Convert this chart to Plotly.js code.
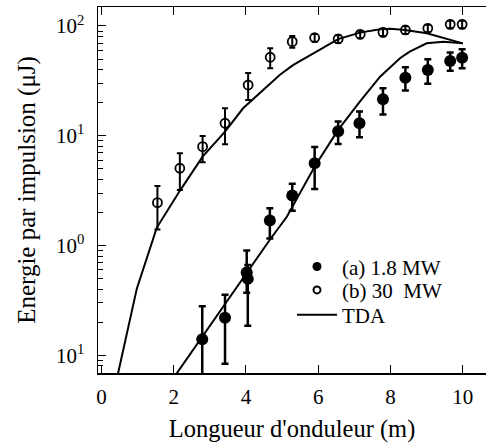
<!DOCTYPE html>
<html>
<head>
<meta charset="utf-8">
<script src="https://cdn.plot.ly/plotly-3.0.1.min.js"></script>
</head>
<body style="margin:0">
<div id="chart" style="width:486px;height:444px"></div>
<script>
// (a) 1.8 MW - filled circles
const xA  = [2.79, 3.42, 4.02, 4.05, 4.66, 5.28, 5.90, 6.55, 7.14, 7.79, 8.41, 9.03, 9.65, 9.98];
const yA  = [0.140, 0.220, 0.569, 0.497, 1.69, 2.86, 5.61, 11.0, 13.0, 21.5, 33.8, 39.7, 48.0, 51.4];
const hiA = [0.28, 0.357, 0.90, 0.665, 2.19, 3.66, 7.9, 13.5, 16.6, 27.1, 42.1, 49.8, 57.2, 61.4];
const loA = [0.05, 0.084, 0.372, 0.186, 1.16, 2.08, 3.27, 8.4, 9.7, 15.6, 25.8, 29.7, 39.2, 41.2];

// (b) 30 MW - open circles
const xB  = [1.55, 2.17, 2.80, 3.42, 4.06, 4.67, 5.28, 5.90, 6.55, 7.16, 7.79, 8.41, 9.03, 9.65, 9.98];
const yB  = [2.46, 5.06, 7.96, 13.0, 29.0, 51.9, 72.0, 78.2, 76.2, 84.0, 87.5, 92.0, 95.2, 103.6, 103.6];
const hiB = [3.49, 6.93, 9.96, 17.8, 37.3, 62.7, 81.0, 84.5, 82.3, 90.7, 94.5, 99.4, 102.8, 111.9, 111.9];
const loB = [1.40, 3.20, 5.74, 8.38, 21.2, 41.2, 63.4, 72.0, 70.1, 77.3, 80.5, 84.6, 87.6, 95.3, 95.3];

// TDA curves
const xT1 = [0.45, 0.98, 1.53, 2.17, 2.80, 3.42, 3.92, 4.66, 4.94, 5.30, 5.86, 6.55, 7.15, 7.71, 8.0, 8.4, 9.0, 9.46, 10.0];
const yT1 = [0.066, 0.405, 1.45, 3.15, 6.46, 10.9, 17.8, 30.0, 36.0, 44.0, 56.4, 76.0, 87.0, 93.3, 94.5, 92.0, 85.8, 77.3, 69.5];
const xT2 = [2.05, 4.66, 5.13, 5.91, 6.55, 7.15, 7.71, 8.26, 8.53, 9.0, 9.46, 10.0];
const yT2 = [0.066, 1.13, 1.83, 5.3, 11.3, 20.5, 34.5, 50.8, 58.3, 69.5, 72.0, 69.5];

const yTickVals = [0.1, 1, 10, 100];
const yTickText = ['10<sup>1</sup>', '10<sup>0</sup>', '10<sup>1</sup>', '10<sup>2</sup>'];
const xTickVals = [0, 2, 4, 6, 8, 10];

const legendNames = ['(a) 1.8 MW', '(b) 30  MW', 'TDA'];

const minorVals = [];
[0.01, 0.1, 1, 10, 100].forEach(d => { for (let k = 2; k <= 9; k++) minorVals.push(d * k); });

const diff = (a, b) => a.map((v, i) => v - b[i]);

const traces = [
  {x: xT1, y: yT1, mode: 'lines', line: {color: '#000', width: 2}, showlegend: false, hoverinfo: 'skip'},
  {x: xT2, y: yT2, mode: 'lines', line: {color: '#000', width: 2}, showlegend: false, hoverinfo: 'skip'},
  {x: xB, y: yB, mode: 'markers', showlegend: false,
   marker: {symbol: 'circle-open', size: 9, color: '#000', line: {width: 1.8, color: '#000'}},
   error_y: {type: 'data', symmetric: false, array: diff(hiB, yB), arrayminus: diff(yB, loB), color: '#000', thickness: 2, width: 3}},
  {x: xA, y: yA, mode: 'markers', showlegend: false,
   marker: {symbol: 'circle', size: 12, color: '#000'},
   error_y: {type: 'data', symmetric: false, array: diff(hiA, yA), arrayminus: diff(yA, loA), color: '#000', thickness: 2.5, width: 3.5}},
  {x: [null], y: [null], name: legendNames[0], legend: 'legend', mode: 'markers', marker: {symbol: 'circle', size: 9, color: '#000'}},
  {x: [null], y: [null], name: legendNames[1], legend: 'legend2', mode: 'markers', marker: {symbol: 'circle-open', size: 7, color: '#000', line: {width: 2, color: '#000'}}},
  {x: [null], y: [null], name: legendNames[2], legend: 'legend3', mode: 'lines', line: {color: '#000', width: 2}}
];

const layout = {
  width: 486, height: 444,
  margin: {l: 98, r: 0, t: 7, b: 71},
  paper_bgcolor: '#fff', plot_bgcolor: '#fff',
  showlegend: true,
  legend:  {x: 0.50, y: 0.290, xanchor: 'left', yanchor: 'middle', bgcolor: 'rgba(0,0,0,0)', borderwidth: 0, itemwidth: 40, font: {family: 'Liberation Serif', size: 21, color: '#000'}},
  legend2: {x: 0.50, y: 0.226, xanchor: 'left', yanchor: 'middle', bgcolor: 'rgba(0,0,0,0)', borderwidth: 0, itemwidth: 40, font: {family: 'Liberation Serif', size: 21, color: '#000'}},
  legend3: {x: 0.50, y: 0.158, xanchor: 'left', yanchor: 'middle', bgcolor: 'rgba(0,0,0,0)', borderwidth: 0, itemwidth: 40, font: {family: 'Liberation Serif', size: 21, color: '#000'}},
  xaxis: {
    range: [-0.094, 10.64], autorange: false,
    tickmode: 'array', tickvals: xTickVals,
    ticks: 'inside', ticklen: 8, tickwidth: 1, tickcolor: '#000',
    showline: true, linecolor: '#000', linewidth: 1.5, mirror: 'ticks',
    showgrid: false, zeroline: false,
    tickfont: {family: 'Liberation Serif', size: 21, color: '#000'},
    ticklabelstandoff: 4,
    title: {text: "Longueur d'onduleur (m)", font: {family: 'Liberation Serif', size: 24.5, color: '#000'}, standoff: 12}
  },
  yaxis: {
    type: 'log', range: [-1.161, 2.173], autorange: false,
    tickmode: 'array', tickvals: yTickVals, ticktext: yTickText,
    ticks: 'inside', ticklen: 8, tickwidth: 1, tickcolor: '#000',
    minor: {tickmode: 'array', tickvals: minorVals, ticks: 'inside', ticklen: 5, tickwidth: 1, tickcolor: '#000', showgrid: false},
    showline: true, linecolor: '#000', linewidth: 1.5, mirror: true,
    showgrid: false, zeroline: false,
    tickfont: {family: 'Liberation Serif', size: 21, color: '#000'},
    ticklabelstandoff: 8,
    title: {text: 'Energie par impulsion (μJ)', font: {family: 'Liberation Serif', size: 25, color: '#000'}, standoff: 13}
  },
  yaxis2: {
    type: 'log', range: [-1.161, 2.173], autorange: false, overlaying: 'y', side: 'right',
    tickmode: 'array', tickvals: yTickVals, ticks: 'inside', ticklen: 8, tickcolor: '#000',
    showticklabels: false, showgrid: false, zeroline: false, showline: false
  }
};

Plotly.newPlot('chart', traces, layout, {staticPlot: true, displayModeBar: false});
</script>
</body>
</html>
